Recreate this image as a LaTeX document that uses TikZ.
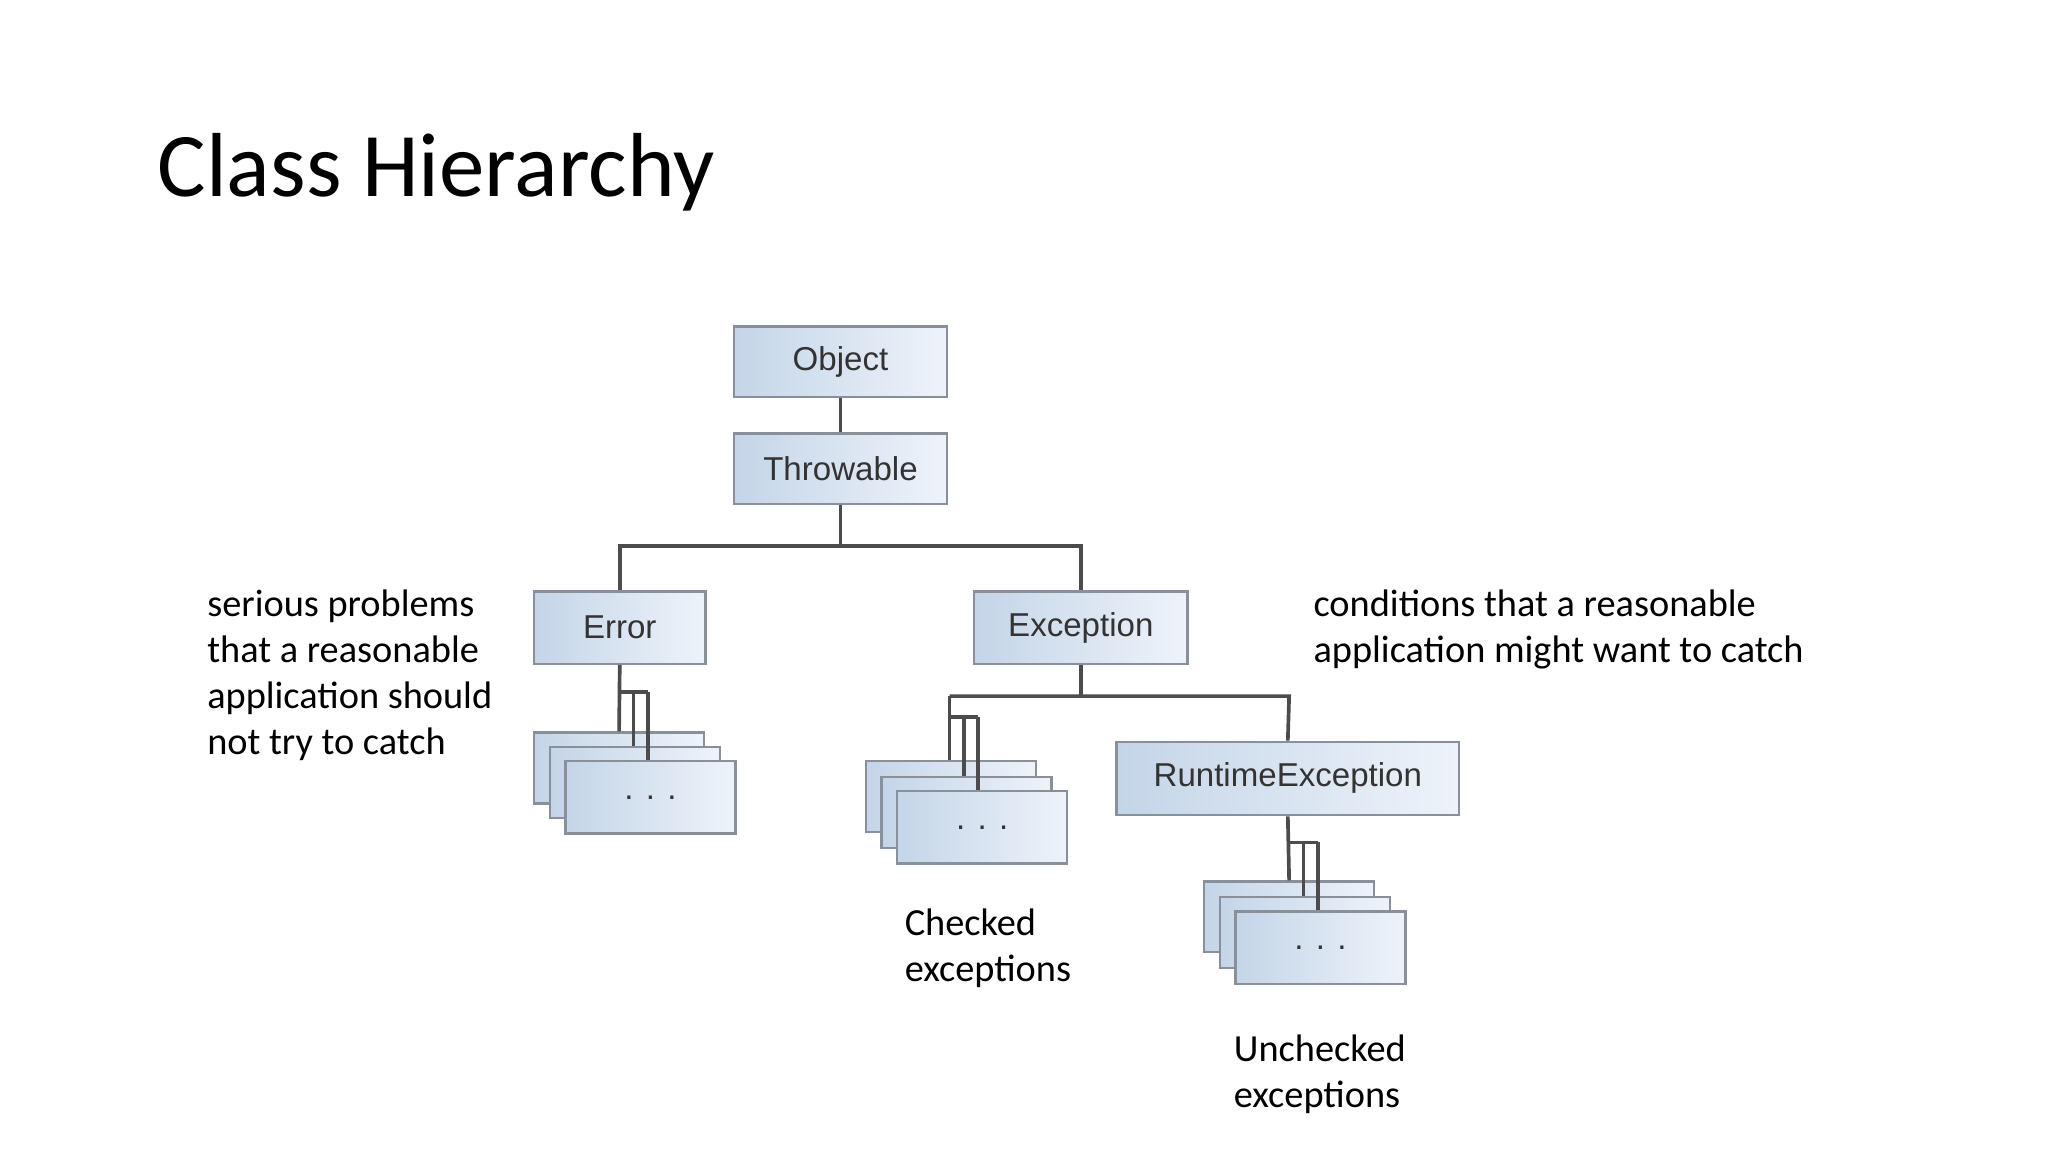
\documentclass[tikz,border=0pt]{standalone}
\usepackage{fontspec}
\setmainfont{Carlito}
\newfontfamily\boxfont{Liberation Sans}
\definecolor{bxl}{HTML}{C4D5E8}
\definecolor{bxr}{HTML}{EEF3FA}
\definecolor{bxd}{HTML}{8A9099}
\begin{document}
\begin{tikzpicture}[x=0.01cm,y=-0.01cm,
  cls/.style={draw=bxd,line width=0.5pt,left color=bxl,right color=bxr,inner sep=0pt},
  ln/.style={draw=black!70,line width=0.8pt},
  lbl/.style={font=\boxfont\fontsize{7.2pt}{8pt}\selectfont,text=black!80},
  txt/.style={font=\fontsize{8.35pt}{10pt}\selectfont,align=left,anchor=north west,inner sep=0pt}]
\useasboundingbox (0,0) rectangle (1568,882);
\node[anchor=west,font=\fontsize{19.8pt}{24pt}\selectfont,inner sep=0pt] (title) at (120,132) {Class Hierarchy};
\newcommand\bx[5]{\node[cls,minimum width=#4*0.01cm-0.5pt,minimum height=#5*0.01cm-0.5pt,anchor=north west] (#1) at (#2,#3) {};}
\bx{obj}{561}{249}{165}{56}\node[lbl] at (obj) {Object};
\bx{thr}{561}{331}{165}{56}\node[lbl] at (thr) {Throwable};
\bx{err}{408}{452}{133}{57}\node[lbl] at (err) {Error};
\bx{exc}{745}{452}{165}{57}\node[lbl] at (exc) {Exception};
\bx{rte}{854}{567}{264}{58}\node[lbl] at (rte) {RuntimeException};
\bx{e1}{408}{560}{132}{56}\bx{e2}{420}{571}{132}{56}\bx{e3}{432}{582}{132}{57}
\node[lbl] at (e3) {. . .};
\bx{c1}{662}{582}{132}{56}\bx{c2}{674}{594}{132}{56}\bx{c3}{686}{605}{132}{57}
\node[lbl] at (c3) {. . .};
\bx{u1}{921}{674}{132}{56}\bx{u2}{933}{686}{132}{56}\bx{u3}{945}{697}{132}{57}
\node[lbl] at (u3) {. . .};
\draw[ln] (obj.south) -- (thr.north);
\draw[ln] (thr.south) -- ++(0,31) -| (err.north);
\draw[ln] (thr.south) ++(0,31) -| (exc.north);
\draw[ln] (err.south) -- (474,560);
\draw[ln] (474,530) -- (496,530);
\draw[ln] (485,530) -- (485,571); \draw[ln] (496,530) -- (496,582);
\draw[ln] (exc.south) -- ++(0,24);
\draw[ln] (727,533) -- (987,533) -- (rte.north);
\draw[ln] (727,533) -- (727,582);
\draw[ln] (727,549) -- (749,549);
\draw[ln] (738,549) -- (738,594); \draw[ln] (749,549) -- (749,605);
\draw[ln] (rte.south) -- (987,674);
\draw[ln] (987,645) -- (1009,645);
\draw[ln] (998,645) -- (998,686); \draw[ln] (1009,645) -- (1009,697);
\node[txt] (t1) at (158,451) {serious problems\\that a reasonable\\application should\\not try to catch};
\node[txt] (t2) at (1005,451) {conditions that a reasonable\\application might want to catch};
\node[txt] (t3) at (692,695) {Checked\\exceptions};
\node[txt] (t4) at (944,792) {Unchecked\\exceptions};
\end{tikzpicture}
\end{document}
